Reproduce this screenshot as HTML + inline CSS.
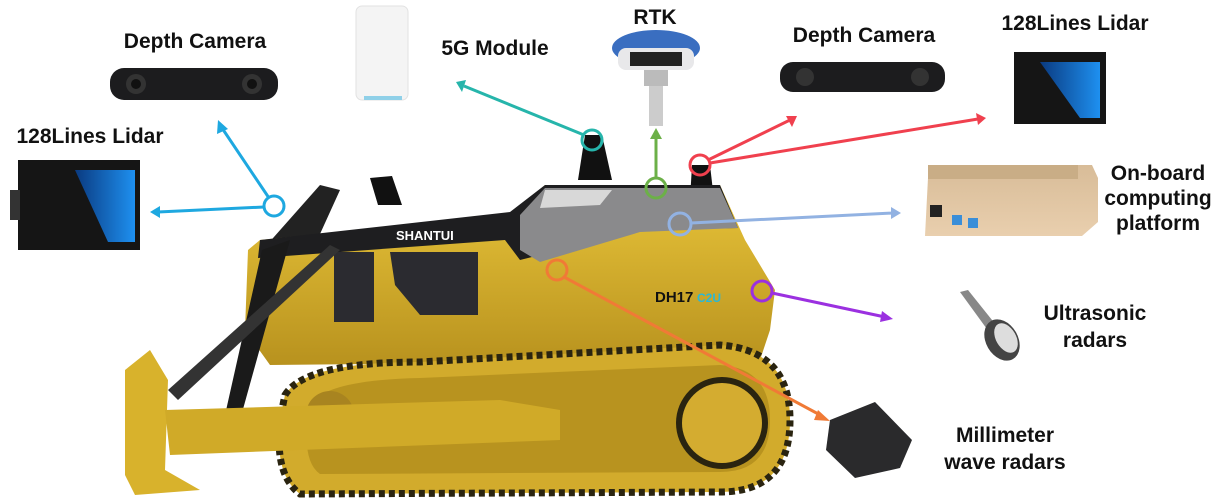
<!DOCTYPE html>
<html><head><meta charset="utf-8"><style>
html,body{margin:0;padding:0;background:#fff;width:1219px;height:502px;overflow:hidden}
svg{display:block}
text{font-family:"Liberation Sans",sans-serif;font-weight:bold;fill:#111}
</style></head><body>
<svg width="1219" height="502" viewBox="0 0 1219 502" xmlns="http://www.w3.org/2000/svg">
<defs>
<linearGradient id="yel" x1="0" y1="0" x2="0" y2="1"><stop offset="0" stop-color="#e8c43a"/><stop offset="1" stop-color="#b8921e"/></linearGradient>
<linearGradient id="gold" x1="0" y1="0" x2="0" y2="1"><stop offset="0" stop-color="#d8bc98"/><stop offset="1" stop-color="#e9cfae"/></linearGradient>
<linearGradient id="lb" x1="0" y1="0" x2="1" y2="0"><stop offset="0" stop-color="#0a3a80"/><stop offset="1" stop-color="#1e90f0"/></linearGradient>
</defs>

<text x="195" y="48" font-size="21" text-anchor="middle">Depth Camera</text>
<text x="495" y="55" font-size="21" text-anchor="middle">5G Module</text>
<text x="655" y="24" font-size="21" text-anchor="middle">RTK</text>
<text x="864" y="42" font-size="21" text-anchor="middle">Depth Camera</text>
<text x="1075" y="30" font-size="21" text-anchor="middle">128Lines Lidar</text>
<text x="90" y="143" font-size="21" text-anchor="middle">128Lines Lidar</text>
<text x="1158" y="180" font-size="21" text-anchor="middle">On-board</text>
<text x="1158" y="205" font-size="21" text-anchor="middle">computing</text>
<text x="1158" y="230" font-size="21" text-anchor="middle">platform</text>
<text x="1095" y="320" font-size="21" text-anchor="middle">Ultrasonic</text>
<text x="1095" y="347" font-size="21" text-anchor="middle">radars</text>
<text x="1005" y="442" font-size="21" text-anchor="middle">Millimeter</text>
<text x="1005" y="469" font-size="21" text-anchor="middle">wave radars</text>

<rect x="110" y="68" width="168" height="32" rx="14" fill="#1c1c1e"/>
<circle cx="136" cy="84" r="10" fill="#333"/><circle cx="136" cy="84" r="5" fill="#111"/>
<circle cx="252" cy="84" r="10" fill="#333"/><circle cx="252" cy="84" r="5" fill="#111"/>
<rect x="780" y="62" width="165" height="30" rx="13" fill="#1c1c1e"/>
<circle cx="805" cy="77" r="9" fill="#333"/><circle cx="920" cy="77" r="9" fill="#333"/>
<rect x="356" y="6" width="52" height="94" rx="6" fill="#f4f4f4" stroke="#e2e2e2"/>
<rect x="364" y="96" width="38" height="4" fill="#8fd0e8"/>
<ellipse cx="656" cy="48" rx="44" ry="18" fill="#3a6ec0"/>
<rect x="618" y="48" width="76" height="22" rx="8" fill="#e8e8ea"/>
<rect x="630" y="52" width="52" height="14" fill="#222"/>
<rect x="644" y="70" width="24" height="16" fill="#bbb"/>
<rect x="649" y="86" width="14" height="40" fill="#ccc"/>
<rect x="1014" y="52" width="92" height="72" fill="#151515"/>
<path d="M1040 62 H1100 V118 H1080 Z" fill="url(#lb)"/>
<rect x="18" y="160" width="122" height="90" fill="#151515"/>
<rect x="10" y="190" width="10" height="30" fill="#333"/>
<path d="M75 170 H135 V242 H108 Z" fill="url(#lb)"/>
<path d="M928 178 L940 165 H1092 L1098 178 V222 L1082 236 H925 Z" fill="url(#gold)"/>
<rect x="928" y="165" width="150" height="14" fill="#c9ad86"/>
<rect x="930" y="205" width="12" height="12" fill="#222"/>
<rect x="952" y="215" width="10" height="10" fill="#3a8ed8"/><rect x="968" y="218" width="10" height="10" fill="#3a8ed8"/>
<path d="M960 292 L968 290 L1000 330 L992 336 Z" fill="#888"/>
<ellipse cx="1002" cy="340" rx="16" ry="22" transform="rotate(-30 1002 340)" fill="#444"/>
<ellipse cx="1006" cy="338" rx="10" ry="16" transform="rotate(-30 1006 338)" fill="#ddd"/>
<path d="M830 420 L875 402 L912 440 L900 468 L855 478 L826 450 Z" fill="#2a2a2c"/>

<path d="M258 255 L320 185 L340 190 L290 300 Z" fill="#222"/>
<path d="M370 178 L392 176 L402 205 L378 205 Z" fill="#111"/>
<path d="M585 135 L602 135 L612 180 L578 180 Z" fill="#111"/>
<path d="M692 165 L710 165 L714 200 L690 200 Z" fill="#111"/>
<path d="M248 250 L260 240 L510 215 L545 185 L720 185 L745 240 L775 290 L770 330 L760 360 L270 365 L245 330 Z" fill="url(#yel)"/>
<path d="M260 240 L510 212 L545 185 L720 185 L738 228 L640 230 L520 260 L505 240 L258 258 Z" fill="#1e1e20"/>
<path d="M520 215 L545 188 L720 188 L738 228 L640 232 L540 262 L520 250 Z" fill="#8a8a8c"/>
<path d="M545 190 L612 190 L600 205 L540 208 Z" fill="#d8d8d8"/>
<text x="396" y="240" font-size="13" style="fill:#fff">SHANTUI</text>
<text x="655" y="302" font-size="15" style="fill:#111">DH17</text><text x="697" y="302" font-size="12" style="fill:#29b8d8">C2U</text>
<rect x="334" y="252" width="40" height="70" fill="#2b2b30"/>
<path d="M390 252 L478 252 L478 315 L420 315 L395 285 Z" fill="#2b2b30"/>
<path d="M262 250 L290 240 L240 420 L225 415 Z" fill="#1a1a1a"/>
<path d="M285 395 Q305 362 420 362 L720 345 Q790 350 790 420 Q790 492 720 492 L300 494 Q268 470 285 395 Z" fill="#d2ab2c"/>
<path d="M285 395 Q305 362 420 362 L720 345 Q790 350 790 420 Q790 492 720 492 L300 494 Q268 470 285 395 Z" fill="none" stroke="#2a2410" stroke-width="7" stroke-dasharray="6 4"/>
<path d="M310 405 Q325 380 420 378 L720 365 Q770 368 770 420 Q770 472 720 472 L320 474 Q300 460 310 405 Z" fill="#b8931f"/>
<circle cx="722" cy="423" r="46" fill="#2a2410"/><circle cx="722" cy="423" r="40" fill="#d4ac30"/>
<circle cx="330" cy="415" r="24" fill="#a88420"/>
<path d="M125 370 L150 350 L168 380 L165 470 L200 490 L135 495 L125 475 Z" fill="#d8b22c"/>
<path d="M165 410 L500 400 L560 410 L560 440 L170 455 Z" fill="#d0aa28"/>
<path d="M168 390 L330 245 L340 250 L178 400 Z" fill="#333"/>

<g fill="none" stroke-width="3">
<g stroke="#1ea8e0"><circle cx="274" cy="206" r="10"/><line x1="269" y1="198" x2="222" y2="128"/><line x1="264" y1="207" x2="158" y2="212"/></g>
<g stroke="#26b5ab"><circle cx="592" cy="140" r="10"/><line x1="584" y1="135" x2="464" y2="86"/></g>
<g stroke="#6cb048"><circle cx="656" cy="188" r="10"/><line x1="656" y1="178" x2="656" y2="136"/></g>
<g stroke="#f0404e"><circle cx="700" cy="165" r="10"/><line x1="708" y1="160" x2="790" y2="120"/><line x1="710" y1="163" x2="978" y2="119"/></g>
<g stroke="#92b2e2"><circle cx="680" cy="224" r="11"/><line x1="691" y1="223" x2="893" y2="213"/></g>
<g stroke="#9b30e0"><circle cx="762" cy="291" r="10"/><line x1="772" y1="293" x2="885" y2="317"/></g>
<g stroke="#f07a36"><circle cx="557" cy="270" r="10"/><line x1="564" y1="277" x2="822" y2="416"/></g>
</g>
<g>
<polygon points="218,120 217,134 228,129" fill="#1ea8e0"/>
<polygon points="150,212 160,206 160,218" fill="#1ea8e0"/>
<polygon points="456,82 466,80 462,92" fill="#26b5ab"/>
<polygon points="656,128 650,139 662,139" fill="#6cb048"/>
<polygon points="797,116 786,116 792,127" fill="#f0404e"/>
<polygon points="986,118 976,113 978,125" fill="#f0404e"/>
<polygon points="901,213 891,207 891,219" fill="#92b2e2"/>
<polygon points="893,319 882,311 880,322" fill="#9b30e0"/>
<polygon points="830,421 818,410 814,420" fill="#f07a36"/>
</g>
</svg>
</body></html>
